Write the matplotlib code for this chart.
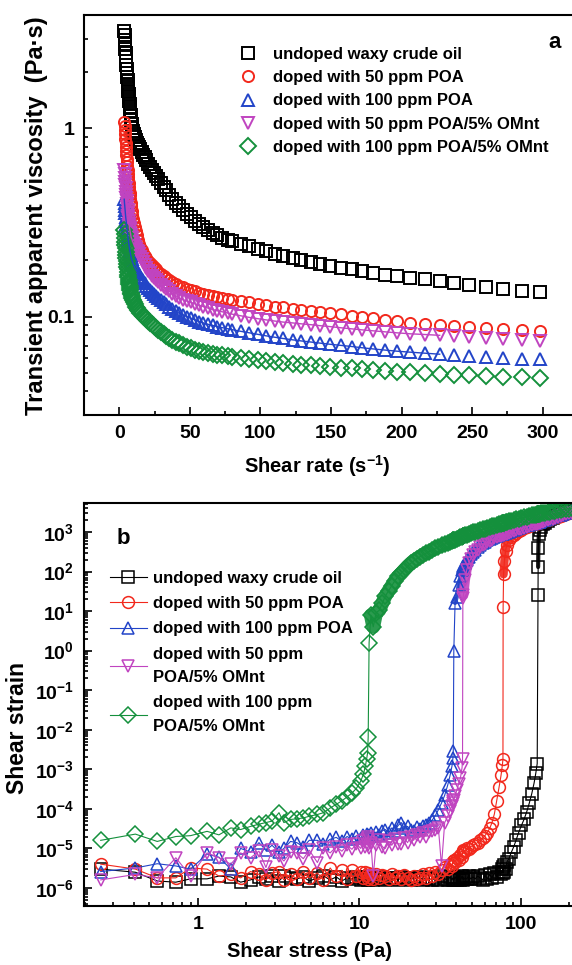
import numpy as np
import matplotlib.pyplot as plt
from matplotlib.ticker import MultipleLocator, FixedLocator, LogLocator, NullFormatter, FuncFormatter

plt.rcParams['font.family'] = 'Liberation Sans'
plt.rcParams['font.weight'] = 'bold'
plt.rcParams['axes.labelweight'] = 'bold'
plt.rcParams['mathtext.fontset'] = 'custom'
plt.rcParams['mathtext.rm'] = 'Liberation Sans:bold'
plt.rcParams['mathtext.bf'] = 'Liberation Sans:bold'
plt.rcParams['mathtext.it'] = 'Liberation Sans:bold'
plt.rcParams['mathtext.default'] = 'bf'

labels = ['undoped waxy crude oil', 'doped with 50 ppm POA', 'doped with 100 ppm POA',
          'doped with 50 ppm POA/5% OMnt', 'doped with 100 ppm POA/5% OMnt']
labels_b = ['undoped waxy crude oil', 'doped with 50 ppm POA', 'doped with 100 ppm POA',
            'doped with 50 ppm\nPOA/5% OMnt', 'doped with 100 ppm\nPOA/5% OMnt']
colors = ['black', '#f2281c', '#2244c8', '#c044c0', '#14903c']
markers = ['s', 'o', '^', 'v', 'D']

# ---- panel a: transient viscosity vs shear rate ----
shear_rate = [3.5, 3.7, 3.9, 4.1, 4.3, 4.5, 4.7, 4.9, 5.1, 5.3, 5.5, 5.7, 5.9, 6.1, 6.3, 6.5, 6.7, 6.9,
              7.1, 7.3, 7.5, 7.8, 8.1, 8.4,
              8.8, 9.3, 9.8, 10.4, 11.0, 11.7, 12.4, 13.2, 14.0, 14.9, 15.8, 16.8, 17.9, 19.0, 20.2,
              21.5, 22.9, 24.4, 26.0, 27.7, 29.5, 31.4, 33.4, 35.5, 37.7, 40.0, 42.5, 45.1, 47.8,
              50.6, 53.5, 56.5, 59.6, 62.8, 66.1, 69.5, 73.0, 76.7,
              80, 86, 92, 98, 104, 110, 116, 123, 129, 136, 142, 149, 157, 165, 172, 180, 188,
              196.5, 206, 216.5, 227, 237, 247.5, 260, 272, 285, 298]

visc_undoped = [3.30, 3.12, 2.95, 2.80, 2.65, 2.52, 2.40, 2.28, 2.17, 2.07, 1.97, 1.88, 1.80, 1.72,
                1.65, 1.58, 1.52, 1.46, 1.40, 1.35, 1.30, 1.23, 1.17, 1.11,
                1.06, 1.01, 0.97, 0.93, 0.90, 0.87, 0.84, 0.82, 0.80, 0.775, 0.75, 0.725, 0.70,
                0.675, 0.65, 0.62, 0.60, 0.58, 0.555, 0.535, 0.51, 0.49, 0.47, 0.445, 0.422, 0.40,
                0.385, 0.368, 0.352, 0.337, 0.323, 0.310, 0.298, 0.287, 0.278, 0.270, 0.262, 0.256,
                0.252, 0.244, 0.236, 0.228, 0.222, 0.216, 0.210, 0.204, 0.199, 0.194, 0.190, 0.186,
                0.182, 0.178, 0.174, 0.170, 0.167, 0.164, 0.161, 0.158, 0.154, 0.151, 0.148, 0.144,
                0.140, 0.137, 0.1345]
visc_poa50 = [1.08, 1.03, 0.98, 0.93, 0.88, 0.84, 0.80, 0.76, 0.725, 0.69, 0.66, 0.63, 0.60, 0.575,
              0.55, 0.53, 0.51, 0.49, 0.47, 0.455, 0.44, 0.42, 0.40, 0.385,
              0.365, 0.345, 0.33, 0.315, 0.30, 0.285, 0.27, 0.255, 0.243, 0.233, 0.225, 0.217, 0.210,
              0.204, 0.198, 0.193, 0.188, 0.183, 0.178, 0.173, 0.168, 0.164, 0.160, 0.156, 0.152,
              0.149, 0.146, 0.143, 0.140, 0.138, 0.136, 0.134, 0.132, 0.130, 0.128, 0.127, 0.125, 0.124,
              0.122, 0.121, 0.119, 0.117, 0.115, 0.113, 0.112, 0.110, 0.108, 0.107, 0.106, 0.105,
              0.103, 0.101, 0.099, 0.098, 0.096, 0.095, 0.093, 0.091, 0.090, 0.089, 0.088, 0.087,
              0.086, 0.085, 0.0843]
visc_poa100 = [0.42, 0.40, 0.385, 0.37, 0.355, 0.34, 0.33, 0.32, 0.31, 0.30, 0.29, 0.282, 0.274, 0.266,
               0.259, 0.252, 0.246, 0.240, 0.234, 0.229, 0.224, 0.218, 0.212, 0.207,
               0.201, 0.196, 0.191, 0.186, 0.182, 0.178, 0.174, 0.171, 0.168, 0.163, 0.158, 0.154,
               0.150, 0.146, 0.142, 0.139, 0.135, 0.132, 0.128, 0.125, 0.122, 0.119, 0.116, 0.113,
               0.110, 0.107, 0.104, 0.102, 0.100, 0.098, 0.096, 0.094, 0.0925, 0.091, 0.0897, 0.0885,
               0.0873, 0.0862,
               0.0852, 0.0835, 0.082, 0.0805, 0.079, 0.0777, 0.0765, 0.0752, 0.0742, 0.0732, 0.0723,
               0.0713, 0.0703, 0.0693, 0.0683, 0.0673, 0.0664, 0.0655, 0.0647, 0.0639, 0.0631, 0.0623,
               0.0616, 0.0609, 0.0603, 0.0597, 0.0592]
visc_poa50_omnt = [0.60, 0.57, 0.545, 0.52, 0.50, 0.48, 0.46, 0.44, 0.425, 0.41, 0.395, 0.38, 0.367,
                   0.355, 0.343, 0.332, 0.322, 0.312, 0.303, 0.295, 0.288, 0.279, 0.271, 0.264,
                   0.260, 0.253, 0.247, 0.241, 0.235, 0.229, 0.224, 0.219, 0.215, 0.208, 0.201, 0.194,
                   0.187, 0.181, 0.175, 0.170, 0.165, 0.160, 0.156, 0.152, 0.148, 0.144, 0.140, 0.136,
                   0.132, 0.129, 0.126, 0.123, 0.121, 0.119, 0.117, 0.115, 0.113, 0.111, 0.109, 0.1075,
                   0.106, 0.1045,
                   0.103, 0.101, 0.099, 0.0975, 0.096, 0.0947, 0.0935, 0.0925, 0.0915, 0.0905, 0.0895,
                   0.0885, 0.0872, 0.086, 0.085, 0.084, 0.083, 0.082, 0.081, 0.0803, 0.0795, 0.0785,
                   0.0778, 0.077, 0.0762, 0.0755, 0.0746]
visc_poa100_omnt = [0.29, 0.275, 0.262, 0.25, 0.24, 0.23, 0.22, 0.212, 0.204, 0.197, 0.19, 0.184, 0.178,
                    0.172, 0.167, 0.162, 0.157, 0.153, 0.149, 0.145, 0.142, 0.138, 0.134, 0.131,
                    0.128, 0.125, 0.122, 0.119, 0.116, 0.113, 0.111, 0.109, 0.107, 0.105, 0.103, 0.101,
                    0.099, 0.097, 0.095, 0.093, 0.091, 0.089, 0.087, 0.085, 0.083, 0.081, 0.079, 0.0765,
                    0.075, 0.0735, 0.072, 0.0705, 0.069, 0.0678, 0.0668, 0.0658, 0.065, 0.0642, 0.0635,
                    0.0628, 0.0622, 0.0616,
                    0.061, 0.0602, 0.0594, 0.0587, 0.058, 0.0574, 0.0568, 0.0562, 0.0556, 0.0551, 0.0546,
                    0.0541, 0.0535, 0.053, 0.0525, 0.052, 0.0515, 0.051, 0.0505, 0.0501, 0.0497, 0.0492,
                    0.0488, 0.0484, 0.048, 0.0477, 0.0474]

# ---- panel b: shear strain vs shear stress ----
shear_stress = [0.25, 0.41, 0.56, 0.73, 0.90, 1.14, 1.35, 1.60, 1.84, 2.12,
                2.39, 2.64, 2.88, 3.18, 3.41, 3.75, 4.1, 4.5, 4.9, 5.5,
                6.0, 6.6, 7.2, 7.8, 8.4, 9.0, 9.6, 10.2, 10.6, 10.9,
                11.1, 11.25, 11.35, 11.5, 11.8, 12.2, 12.7, 13.3, 13.9, 14.5,
                15.2, 15.9, 16.6, 17.4, 18.2, 19.0, 19.9, 20.8, 21.7, 22.7,
                23.7, 24.8, 25.9, 27.1, 28.3, 29.6, 30.9, 32.3, 33.8, 35.3,
                36.5, 37.5, 38.0, 38.2, 38.5, 39.2, 40.2, 41.2, 42.3, 43.3,
                43.6, 43.8, 44.2, 45.2, 46.3, 47.5, 49.0, 50.6, 52.3, 54.1,
                56.0, 58.0, 60.0, 62.0, 64.2, 66.4, 68.7, 71.0, 73.4, 75.5,
                77.0, 77.6, 77.8, 78.3, 79.2, 80.5, 82.0, 84.5, 87.5, 90.5,
                93.5, 97, 101, 105, 109, 113, 117, 121, 124, 126.5,
                127.8, 128.2, 128.6, 129.5, 131, 134, 138, 142, 147, 152,
                158, 164, 170, 177, 184, 191, 199, 207]

strain_undoped = [3.0e-6, 2.5e-6, 1.5e-6, 1.4e-6, 1.7e-6, 1.7e-6, 2.0e-6, 1.9e-6, 1.4e-6, 1.6e-6,
                  1.9e-6, 1.7e-6, 2.0e-6, 1.5e-6, 2.0e-6, 1.8e-6, 1.7e-6, 1.9e-6, 1.5e-6, 1.8e-6,
                  2.0e-6, 1.6e-6, 1.9e-6, 1.5e-6, 1.8e-6, 1.7e-6, 1.9e-6, 1.6e-6, 1.8e-6, 1.7e-6,
                  1.9e-6, 1.6e-6, 1.8e-6, 1.7e-6, 1.9e-6, 1.6e-6, 1.8e-6, 1.7e-6, 1.9e-6, 1.6e-6,
                  1.8e-6, 1.7e-6, 1.8e-6, 1.6e-6, 1.9e-6, 1.7e-6, 1.8e-6, 1.6e-6, 1.8e-6, 1.7e-6,
                  1.9e-6, 1.6e-6, 1.8e-6, 1.7e-6, 1.6e-6, 1.8e-6, 1.6e-6, 2.0e-6, 1.7e-6, 1.6e-6,
                  1.9e-6, 1.6e-6, 1.8e-6, 1.7e-6, 1.6e-6, 1.9e-6, 1.6e-6, 1.8e-6, 1.6e-6, 2.0e-6,
                  1.7e-6, 1.9e-6, 1.6e-6, 1.8e-6, 1.7e-6, 2.0e-6, 1.7e-6, 1.9e-6, 1.7e-6, 2.0e-6,
                  1.8e-6, 1.6e-6, 2.1e-6, 1.7e-6, 2.2e-6, 1.8e-6, 2.4e-6, 1.9e-6, 2.6e-6, 2.2e-6,
                  3.0e-6, 2.4e-6, 3.4e-6, 2.6e-6, 3.8e-6, 3.0e-6, 4.5e-6, 5.5e-6, 8.0e-6, 1.1e-5,
                  1.6e-5, 2.5e-5, 3.8e-5, 5.5e-5, 8.5e-5, 1.4e-4, 2.4e-4, 4.5e-4, 8.0e-4, 1.4e-3,
                  25, 130, 400, 900, 1150, 1350, 1550, 1700, 1900, 2080,
                  2280, 2470, 2650, 2850, 3050, 3250, 3450, 3650]
strain_poa50 = [4.0e-6, 3.0e-6, 1.8e-6, 1.8e-6, 3.2e-6, 3.0e-6, 2.0e-6, 2.2e-6, 1.8e-6, 2.6e-6,
                2.2e-6, 1.6e-6, 2.4e-6, 2.6e-6, 1.6e-6, 2.2e-6, 1.7e-6, 2.6e-6, 1.8e-6, 2.4e-6,
                1.6e-6, 3.2e-6, 2.0e-6, 2.8e-6, 1.7e-6, 2.8e-6, 2.0e-6, 2.5e-6, 1.8e-6, 2.6e-6,
                2.1e-6, 1.7e-6, 2.4e-6, 1.9e-6, 2.2e-6, 1.7e-6, 2.3e-6, 1.8e-6, 2.1e-6, 2.0e-6,
                1.7e-6, 2.2e-6, 1.8e-6, 2.0e-6, 1.7e-6, 2.1e-6, 1.8e-6, 1.6e-6, 2.0e-6, 1.7e-6,
                1.8e-6, 2.2e-6, 1.8e-6, 2.4e-6, 2.0e-6, 2.6e-6, 2.3e-6, 2.8e-6, 3.4e-6, 3.0e-6,
                4.0e-6, 3.6e-6, 4.7e-6, 4.2e-6, 5.0e-6, 4.5e-6, 5.8e-6, 5.2e-6, 7.0e-6, 6.2e-6,
                8.5e-6, 7.5e-6, 9.0e-6, 8.5e-6, 1.0e-5, 9.5e-6, 1.1e-5, 1.2e-5, 1.3e-5, 1.4e-5,
                1.6e-5, 1.8e-5, 2.1e-5, 2.5e-5, 3.2e-5, 4.5e-5, 7.5e-5, 1.6e-4, 3.5e-4, 7.0e-4,
                1.3e-3, 1.8e-3, 12.7, 85, 180, 330, 480, 620, 740, 840,
                950, 1050, 1150, 1260, 1360, 1450, 1530, 1600, 1650, 1690,
                1710, 1715, 1720, 1735, 1760, 1810, 1880, 1950, 2040, 2130,
                2240, 2350, 2460, 2590, 2720, 2850, 3000, 3150]
strain_poa100 = [2.6e-6, 3.2e-6, 4.1e-6, 3.6e-6, 3.0e-6, 7.2e-6, 6.0e-6, 3.0e-6, 1.0e-5, 8.0e-6,
                 1.4e-5, 9.0e-6, 1.2e-5, 8.0e-6, 1.0e-5, 1.5e-5, 1.4e-5, 1.1e-5, 1.6e-5, 1.6e-5,
                 1.3e-5, 1.7e-5, 1.9e-5, 1.5e-5, 2.0e-5, 1.7e-5, 2.1e-5, 1.8e-5, 2.2e-5, 1.9e-5,
                 2.3e-5, 2.0e-5, 2.2e-5, 1.9e-5, 2.4e-5, 2.1e-5, 2.6e-5, 2.2e-5, 2.8e-5, 3.0e-5,
                 2.5e-5, 3.3e-5, 2.8e-5, 3.8e-5, 4.5e-5, 3.2e-5, 3.6e-5, 2.9e-5, 2.7e-5, 3.4e-5,
                 3.1e-5, 3.7e-5, 3.9e-5, 4.4e-5, 5.2e-5, 6.8e-5, 9.5e-5, 1.4e-4, 2.2e-4, 4.0e-4,
                 7.0e-4, 1.2e-3, 1.9e-3, 2.9e-3, 1.0, 16, 23, 45, 75, 110,
                 120, 128, 140, 165, 195, 230, 270, 310, 355, 410,
                 470, 520, 570, 615, 660, 705, 750, 795, 835, 870,
                 895, 905, 910, 918, 930, 950, 975, 1020, 1075, 1130,
                 1185, 1250, 1320, 1390, 1460, 1530, 1600, 1670, 1720, 1760,
                 1780, 1790, 1795, 1810, 1830, 1890, 1970, 2050, 2150, 2250,
                 2370, 2490, 2610, 2750, 2880, 3000, 3150, 3300]
strain_poa50_omnt = [1.6e-6, 2.2e-6, 1.8e-6, 5.8e-6, 2.0e-6, 7.7e-6, 5.8e-6, 4.0e-6, 7.7e-6, 5.8e-6,
                     8.5e-6, 3.3e-6, 9.0e-6, 6.5e-6, 4.8e-6, 8.0e-6, 7.7e-6, 5.5e-6, 9.0e-6, 4.4e-6,
                     1.0e-5, 7.7e-6, 1.1e-5, 8.5e-6, 1.2e-5, 9.5e-6, 1.3e-5, 1.0e-5, 1.5e-5, 1.1e-5,
                     1.7e-5, 1.2e-5, 1.9e-5, 1.0e-5, 1.4e-5, 2.0e-6, 1.2e-5, 1.6e-5, 1.1e-5, 1.0e-5,
                     1.5e-5, 1.2e-5, 1.7e-5, 1.3e-5, 1.3e-5, 1.8e-5, 1.4e-5, 2.0e-5, 1.6e-5, 2.2e-5,
                     1.9e-5, 2.4e-5, 2.0e-5, 2.6e-5, 2.7e-5, 2.9e-5, 3.3e-5, 3.6e-6, 4.5e-5, 6.5e-5,
                     9.0e-5, 1.2e-4, 1.4e-4, 1.6e-4, 1.7e-4, 2.1e-4, 3.0e-4, 4.2e-4, 6.0e-4, 1.1e-3,
                     1.8e-3, 21, 25, 60, 110, 160, 210, 260, 310, 360,
                     410, 460, 510, 555, 600, 645, 690, 730, 770, 805,
                     830, 840, 843, 850, 865, 885, 905, 945, 995, 1045,
                     1095, 1155, 1220, 1285, 1350, 1415, 1480, 1545, 1590, 1630,
                     1650, 1655, 1660, 1675, 1700, 1750, 1820, 1890, 1980, 2070,
                     2180, 2290, 2400, 2530, 2660, 2790, 2940, 3100]
strain_poa100_omnt = [1.6e-5, 2.3e-5, 1.5e-5, 2.0e-5, 2.1e-5, 2.7e-5, 2.2e-5, 3.3e-5, 3.0e-5, 3.6e-5,
                      4.1e-5, 4.5e-5, 4.9e-5, 8.0e-5, 4.5e-5, 5.4e-5, 5.6e-5, 5.9e-5, 6.5e-5, 7.2e-5,
                      8.0e-5, 1.05e-4, 1.3e-4, 1.6e-4, 2.0e-4, 2.5e-4, 3.3e-4, 5.0e-4, 7.5e-4, 1.2e-3,
                      1.8e-3, 2.6e-3, 6.5e-3, 1.6, 7.8, 4.0, 9.0, 10.5, 16, 24,
                      33, 44, 58, 75, 90, 110, 135, 160, 185, 210,
                      235, 265, 290, 320, 350, 385, 420, 455, 495, 535,
                      565, 595, 610, 615, 625, 645, 675, 705, 735, 765,
                      773, 780, 790, 820, 850, 885, 925, 970, 1015, 1065,
                      1115, 1165, 1220, 1270, 1330, 1390, 1450, 1510, 1570, 1625,
                      1660, 1675, 1680, 1695, 1715, 1750, 1790, 1855, 1930, 2010,
                      2085, 2170, 2270, 2360, 2450, 2530, 2610, 2690, 2750, 2800,
                      2825, 2830, 2840, 2855, 2885, 2940, 3010, 3080, 3160, 3240,
                      3330, 3420, 3510, 3610, 3710, 3800, 3900, 4000]

visc = [visc_undoped, visc_poa50, visc_poa100, visc_poa50_omnt, visc_poa100_omnt]
strain = [strain_undoped, strain_poa50, strain_poa100, strain_poa50_omnt, strain_poa100_omnt]

W, H = 572, 965
fig = plt.figure(figsize=(W / 100, H / 100), dpi=100)
ax1 = fig.add_axes([84 / W, 1 - 415 / H, 494 / W, 400 / H])
ax2 = fig.add_axes([84 / W, 1 - 906 / H, 492 / W, 403 / H])

# panel a
x = np.array(shear_rate)
for i in range(5):
    ax1.plot(shear_rate, visc[i], ls='none', marker=markers[i], ms=8, mfc='none',
             mec=colors[i], mew=1.4, label=labels[i])
for i in (2, 3):
    keep = x <= 230
    ax1.plot(x[keep], np.array(visc[i])[keep], color=colors[i], lw=1.0)

ax1.set_yscale('log')
ax1.set_xlim(-25, 325)
ax1.set_ylim(0.03, 4.0)
ax1.xaxis.set_major_locator(MultipleLocator(50))
ax1.xaxis.set_minor_locator(MultipleLocator(25))
ax1.yaxis.set_major_locator(FixedLocator([0.1, 1]))
ax1.yaxis.set_major_formatter(FuncFormatter(lambda v, p: '%g' % v))
ax1.yaxis.set_minor_locator(LogLocator(base=10, subs=np.arange(2, 10), numticks=20))
ax1.yaxis.set_minor_formatter(NullFormatter())
ax1.set_xlabel('Shear rate (s$^{-1}$)', fontsize=14.5, fontweight='bold')
ax1.set_ylabel('Transient apparent viscosity  (Pa·s)', fontsize=17, fontweight='bold')
ax1.xaxis.set_label_coords(0.473, -0.095)
ax1.yaxis.set_label_coords(-0.073, 0.4975)
ax1.legend(loc='upper left', bbox_to_anchor=(0.316, 0.92), frameon=False, fontsize=12,
           handlelength=1.0, handletextpad=1.0, labelspacing=0.49, borderpad=0,
           borderaxespad=0, numpoints=1)
ax1.text(0.953, 0.9325, 'a', transform=ax1.transAxes, ha='center', va='center', fontsize=16)

# panel b: dense post-yield bands, then the marked curves
band_lw = [3, 6, 3, 7, 10]
band_start = [110, 92, 64, 71, 33]
for i in range(5):
    j = band_start[i]
    ax2.plot(shear_stress[j + 1:], strain[i][j + 1:], color=colors[i], lw=band_lw[i],
             solid_capstyle='round', alpha=0.9)
for i in range(5):
    ax2.plot(shear_stress, strain[i], ls='-', lw=0.8, color=colors[i], marker=markers[i], ms=8.5,
             mfc='none', mec=colors[i], mew=1.1, label=labels_b[i])

ax2.set_xscale('log')
ax2.set_yscale('log')
ax2.set_xlim(0.197, 220)
ax2.set_ylim(3.5e-7, 5.4e3)
ax2.xaxis.set_major_locator(FixedLocator([1, 10, 100]))
ax2.xaxis.set_major_formatter(FuncFormatter(lambda v, p: '%g' % v))
ax2.xaxis.set_minor_locator(LogLocator(base=10, subs=np.arange(2, 10), numticks=20))
ax2.xaxis.set_minor_formatter(NullFormatter())
ax2.yaxis.set_major_locator(FixedLocator([10.0 ** k for k in range(-6, 4)]))
ax2.yaxis.set_major_formatter(FuncFormatter(lambda v, p: r'$10^{%d}$' % round(np.log10(v))))
ax2.yaxis.set_minor_locator(LogLocator(base=10, subs=np.arange(2, 10), numticks=30))
ax2.yaxis.set_minor_formatter(NullFormatter())
ax2.set_xlabel('Shear stress (Pa)', fontsize=14.5, fontweight='bold')
ax2.set_ylabel('Shear strain', fontsize=16.5, fontweight='bold')
ax2.xaxis.set_label_coords(0.459, -0.089)
ax2.yaxis.set_label_coords(-0.112, 0.4415)
leg = ax2.legend(loc='upper left', bbox_to_anchor=(0.053, 0.831), frameon=False, fontsize=12,
                 handlelength=2.2, handletextpad=0.4, labelspacing=0.61, borderpad=0,
                 borderaxespad=0)
for t in leg.get_texts():
    t.set_linespacing(1.7)
ax2.text(0.079, 0.913, 'b', transform=ax2.transAxes, ha='center', va='center', fontsize=16)

for ax in (ax1, ax2):
    ax.tick_params(which='both', direction='in', top=False, right=False, labelsize=14, width=1.2)
    ax.tick_params(which='major', length=6, pad=7)
    ax.tick_params(which='minor', length=3)
    for s in ax.spines.values():
        s.set_linewidth(1.5)

fig.savefig('out.png', dpi=100)
